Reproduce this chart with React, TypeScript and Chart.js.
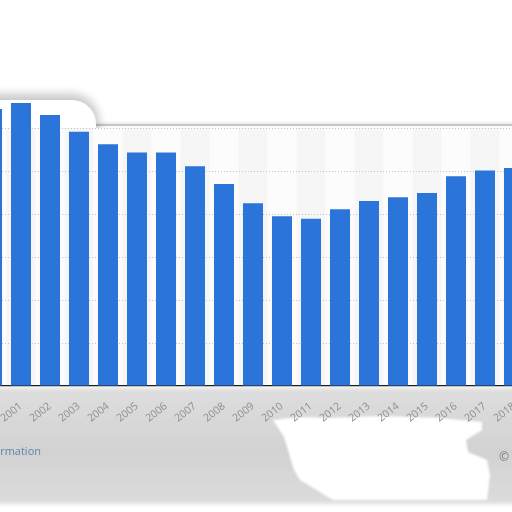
import React, { useEffect, useRef } from "react";
import { Chart, registerables } from "chart.js";

Chart.register(...registerables);

const years = [
  "2000", "2001", "2002", "2003", "2004", "2005", "2006", "2007", "2008", "2009",
  "2010", "2011", "2012", "2013", "2014", "2015", "2016", "2017", "2018",
];
const values = [
  6.44, 6.58, 6.3, 5.91, 5.62, 5.43, 5.43, 5.11, 4.7, 4.25,
  3.95, 3.89, 4.11, 4.3, 4.39, 4.49, 4.88, 5.01, 5.07,
];
const gridTicks = [0, 1, 2, 3, 4, 5, 6, 7];

const BAR_COLOR = "#2b74d9";

const shadingPlugin = {
  id: "shading",
  beforeDraw(chart: any) {
    const { ctx, scales } = chart;
    const x = scales.x;
    const y = scales.y;
    if (!x || !y) return;
    const top = y.getPixelForValue(6);
    const bottom = y.getPixelForValue(0);
    const band = x.getPixelForValue(1) - x.getPixelForValue(0);
    ctx.save();
    years.forEach((_, i) => {
      const cx = x.getPixelForValue(i);
      ctx.fillStyle = i % 2 === 1 ? "#f6f6f6" : "#fcfcfc";
      ctx.fillRect(cx - band / 2, top, band, bottom - top);
    });
    ctx.restore();
  },
};

export default function App() {
  const ref = useRef<HTMLCanvasElement>(null);

  useEffect(() => {
    if (!ref.current) return;
    const chart = new Chart(ref.current, {
      type: "bar",
      data: {
        labels: years,
        datasets: [
          {
            data: values,
            backgroundColor: BAR_COLOR,
            borderWidth: 0,
            categoryPercentage: 1,
            barPercentage: 0.69,
          },
        ],
      },
      options: {
        animation: false,
        responsive: false,
        maintainAspectRatio: false,
        events: [],
        layout: { padding: { left: 57.5, right: 31.5, top: 85, bottom: 86 } },
        plugins: { legend: { display: false }, tooltip: { enabled: false } },
        scales: {
          x: {
            afterFit: (s: any) => {
              s.height = 40;
            },
            grid: { display: false },
            border: { display: true, color: "#1e1e1e", width: 1.2 },
            ticks: {
              color: "#8e8e8e",
              font: { family: "Open Sans", size: 10.5 },
              minRotation: 38,
              maxRotation: 38,
              autoSkip: false,
              padding: 6,
            },
          },
          y: {
            min: 0,
            max: 7,
            afterFit: (s: any) => {
              s.width = 0;
            },
            afterBuildTicks: (s: any) => {
              s.ticks = gridTicks.map((v) => ({ value: v }));
            },
            ticks: { display: false },
            grid: {
              drawTicks: false,
              color: (c: any) =>
                c.tick && c.tick.value >= 1 && c.tick.value <= 6 ? "#c4c4c4" : "rgba(0,0,0,0)",
              lineWidth: 1,
            },
            border: { display: false, dash: [1, 2] },
          },
        },
      },
      plugins: [shadingPlugin],
    });
    return () => chart.destroy();
  }, []);

  return (
    <div
      style={{
        position: "fixed",
        left: 0,
        top: 0,
        width: 512,
        height: 512,
        overflow: "hidden",
        background: "#fff",
        fontFamily: "Open Sans, sans-serif",
      }}
    >
      {/* grey area under the axis */}
      <div
        style={{
          position: "absolute",
          left: -10,
          top: 388,
          width: 540,
          height: 116,
          background: "linear-gradient(180deg, #dedede 0%, #d2d2d2 55%, #dcdcdc 100%)",
          filter: "blur(2px)",
        }}
      />
      <div style={{ position: "absolute", left: 0, top: 0, width: 512, height: 512, filter: "blur(1px)" }}>
        <div
          style={{
            position: "absolute",
            left: 0,
            top: 0,
            width: 512,
            height: 512,
            background: "#fff",
            clipPath:
              "polygon(273px 420px, 300px 417px, 330px 418px, 380px 416px, 440px 418px, 482px 422px, 482px 430px, 466px 440px, 468px 452px, 487px 460px, 490px 475px, 487px 500px, 333px 500px, 300px 480px, 294px 470px, 284px 437px)",
          }}
        />
      </div>
      {/* top border line and shadow bump */}
      <div
        style={{
          position: "absolute",
          left: 96,
          top: 124,
          width: 430,
          height: 2,
          background: "#c6c6c6",
          boxShadow: "0 -1px 3px rgba(0,0,0,0.15)",
          filter: "blur(0.5px)",
        }}
      />
      <div
        style={{
          position: "absolute",
          left: -30,
          top: 100,
          width: 126,
          height: 70,
          background: "#fff",
          borderRadius: 24,
          boxShadow: "0 -3px 10px 3px rgba(0,0,0,0.22)",
        }}
      />
      <canvas
        ref={ref}
        width={640}
        height={512}
        style={{ position: "absolute", left: -80, top: 0, width: 640, height: 512 }}
      />
      <span
        style={{
          position: "absolute",
          right: 471,
          top: 443,
          fontSize: 11,
          color: "#5f87ad",
          whiteSpace: "nowrap",
        }}
      >
        Additional Information
      </span>
      <span
        style={{
          position: "absolute",
          left: 499,
          top: 448,
          fontSize: 12,
          color: "#7a7a7a",
          whiteSpace: "nowrap",
        }}
      >
        ©
      </span>
    </div>
  );
}
